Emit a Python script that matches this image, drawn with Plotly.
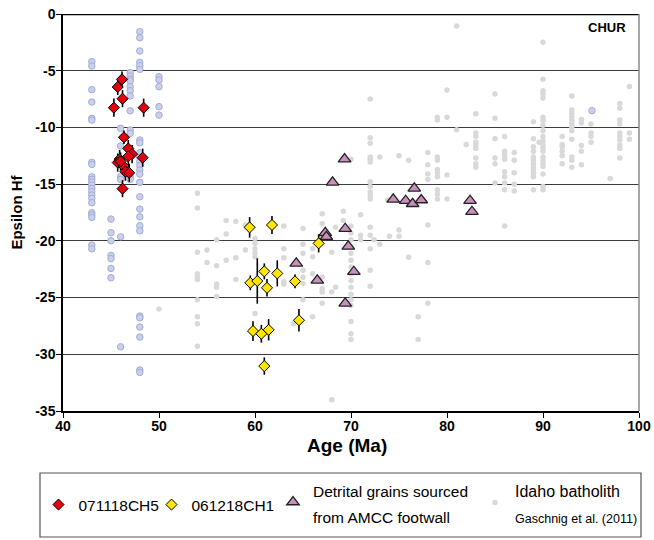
import plotly.graph_objects as go

# ---------------- data ----------------
# 071118CH5 (red diamonds)
ch5_age = [46.15, 45.7, 46.2, 45.3, 48.4, 46.35, 46.8, 47.2, 45.9, 46.8, 48.3, 45.7, 46.3, 46.5, 46.9, 46.2, 46.0]
ch5_hf = [-5.76, -6.44, -7.47, -8.26, -8.26, -10.87, -11.85, -12.35, -12.79, -12.55, -12.67, -13.1, -13.4, -13.9, -14.0, -15.4, -13.0]
ch5_err = [0.7, 0.7, 0.75, 0.8, 0.8, 0.6, 0.75, 0.8, 0.8, 0.8, 0.8, 0.8, 0.75, 0.8, 0.8, 0.75, 0.8]

# 061218CH1 (yellow diamonds)
ch1_age = [59.44, 61.77, 66.63, 59.51, 60.24, 60.97, 61.25, 62.32, 64.17, 64.58, 59.79, 60.66, 61.42, 60.97]
ch1_hf = [-18.81, -18.6, -20.22, -23.7, -23.54, -22.69, -24.14, -22.87, -23.57, -27.0, -27.95, -28.19, -27.84, -31.04]
ch1_err = [0.9, 0.8, 0.8, 0.65, 2.0, 0.7, 0.77, 1.15, 0.6, 1.0, 0.87, 0.78, 0.94, 0.76]

# Detrital grains sourced from AMCC footwall (triangles)
det_age = [69.33, 68.08, 76.59, 74.4, 75.69, 76.42, 77.32, 82.4, 82.6, 69.4, 67.32, 67.43, 69.72, 64.3, 70.3, 66.49, 69.4]
det_hf = [-12.79, -14.84, -15.37, -16.34, -16.46, -16.73, -16.4, -16.46, -17.43, -18.93, -19.29, -19.64, -20.49, -21.98, -22.72, -23.48, -25.51]

# Other Eocene data (lavender circles, not in legend)
eoc_age = ([43.0] * 22 + [45.0] * 7 + [46.0] * 6 + [47.0] * 12 + [48.0] * 26 + [50.0] * 5 + [95.1])
eoc_hf = [-4.2, -4.59, -6.67, -7.76, -9.2, -9.35, -13.08, -13.26, -14.35, -14.58, -14.81, -15.08, -15.37, -15.67, -15.96, -16.25, -16.64, -17.52, -17.72, -17.93, -20.37, -20.7,
          -18.08, -19.28, -19.99, -21.28, -21.57, -22.43, -23.25,
          -10.08, -11.64, -14.35, -14.58, -19.64, -29.34,
          -5.17, -5.47, -5.73, -5.91, -6.41, -6.76, -7.23, -8.53, -10.23, -10.52, -14.35, -14.58,
          -1.56, -2.09, -3.26, -4.26, -4.56, -4.88, -11.11, -11.35, -12.23, -12.64, -13.02, -13.38, -13.76, -14.11, -14.84, -16.11, -17.2, -17.88, -18.67, -19.11, -26.63, -26.78, -27.6, -28.48, -31.39, -31.6,
          -5.53, -5.82, -6.41, -8.17, -8.91,
          -8.52]

# Idaho batholith, Gaschnig et al. (2011) (grey dots)
idaho_age = ([50.0] + [54.0] * 10 + [55.0] * 2 + [56.0] * 5 + [57.0] * 3 + [58.0] * 3 + [59.0] * 2 + [60.0] * 6
             + [63.0] * 5 + [64.0] + [65.0] * 7 + [66.0] * 4 + [67.0] * 6 + [68.0] * 3 + [68.4] * 2 + [69.2] * 2
             + [70.0] * 17 + [71.0] * 3 + [72.0] * 16 + [72.4] + [73.0] * 2 + [73.8] + [74.0] + [75.0] * 3 + [76.0] * 2
             + [77.0] * 2 + [78.0] * 7 + [79.0] * 10 + [80.0] * 4 + [81.0] * 2 + [82.0] + [83.0] * 9 + [85.0] * 6
             + [86.0] * 10 + [87.0] * 5 + [89.0] * 12 + [89.6] + [90.0] * 21 + [92.0] * 6 + [93.0] * 12 + [94.0] * 5
             + [95.0] * 4 + [97.0] + [98.0] * 10 + [99.0] * 3)
idaho_hf = [-26.0,
            -15.8, -17.1, -21.0, -22.9, -23.2, -23.4, -25.2, -26.7, -27.3, -29.3,
            -20.8, -21.9,
            -19.9, -22.2, -23.8, -24.1, -24.9,
            -18.2, -19.4, -21.7,
            -18.3, -21.5, -23.4,
            -18.6, -20.8,
            -19.8, -20.2, -20.7, -21.1, -21.4, -26.4,
            -18.7, -20.7, -21.5, -23.6, -23.8,
            -27.3,
            -18.9, -20.3, -21.1, -22.6, -23.2, -23.75, -25.2,
            -20.7, -21.4, -22.9, -26.7,
            -17.6, -18.5, -23.2, -24.2, -24.5, -25.5,
            -21.0, -24.5, -34.0,
            -18.8, -24.1,
            -17.4, -18.2,
            -12.8, -18.7, -19.3, -19.9, -20.5, -21.1, -21.7, -22.3, -22.9, -23.5, -24.1, -24.7, -25.2, -25.7, -27.1, -28.2, -28.7,
            -17.7, -19.5, -19.9,
            -7.5, -10.9, -11.4, -12.6, -12.8, -13.05, -14.8, -15.2, -15.7, -16.0, -16.3, -18.8, -19.5, -20.7, -22.6, -24.0,
            -19.9,
            -12.6, -20.3,
            -16.4,
            -19.6,
            -12.5, -19.05, -19.6,
            -12.9, -21.45,
            -26.7, -28.7,
            -12.2, -13.3, -14.1, -14.6, -18.6, -21.9, -25.5,
            -9.1, -9.35, -12.6, -12.9, -13.7, -14.0, -14.35, -15.5, -15.9, -16.3,
            -6.7, -9.1, -14.2, -16.3,
            -1.06, -10.2,
            -11.5,
            -8.8, -10.5, -10.8, -11.3, -11.55, -11.85, -12.7, -13.2, -13.5,
            -7.05, -9.2, -11.0, -12.7, -13.2, -14.9,
            -10.8, -12.1, -12.35, -12.6, -12.8, -13.9, -14.35, -14.9, -15.5, -18.7,
            -12.2, -12.9, -14.0, -15.0, -15.6,
            -9.5, -11.0, -11.7, -12.1, -12.6, -12.9, -13.2, -13.5, -13.75, -14.05, -14.35, -15.5,
            -11.3,
            -2.5, -5.76, -6.76, -7.05, -7.4, -9.1, -9.4, -9.8, -10.3, -10.8, -11.2, -11.55, -11.85, -12.1, -12.6, -12.9, -13.2, -13.45, -14.1, -15.2, -15.5,
            -10.8, -11.5, -11.7, -12.1, -12.5, -13.2,
            -7.23, -8.47, -8.76, -9.06, -9.35, -9.64, -9.94, -10.3, -11.05, -12.6, -12.9, -13.5,
            -9.3, -9.6, -11.6, -12.1, -13.3,
            -9.7, -10.5, -10.8, -11.3,
            -14.5,
            -7.9, -8.3, -9.35, -9.7, -10.5, -10.8, -11.1, -11.55, -11.85, -12.7,
            -6.4, -10.5, -11.05]

x_ticks = [40, 50, 60, 70, 80, 90, 100]
y_ticks = [0, -5, -10, -15, -20, -25, -30, -35]

FONT = "Liberation Sans, Arial, sans-serif"
W, H = 654, 540

fig = go.Figure()

fig.add_trace(go.Scatter(
    x=idaho_age, y=idaho_hf, mode="markers",
    name="<span style='font-size:16px'>Idaho batholith</span><br><span style='font-size:12.5px'>Gaschnig et al. (2011)</span>",
    marker=dict(color="#d9d9d9", size=5.5, line=dict(width=0)),
    legend="legend4"))

fig.add_trace(go.Scatter(
    x=eoc_age, y=eoc_hf, mode="markers", showlegend=False,
    marker=dict(color="#cbd0ea", size=6.5, line=dict(color="#a3acd8", width=1))))

fig.add_trace(go.Scatter(
    x=det_age, y=det_hf, mode="markers",
    name="<span style='font-size:15.5px'>Detrital grains sourced</span><br><span style='font-size:15.5px'>from AMCC footwall</span>",
    marker=dict(symbol="triangle-up", color="#c98fbf", size=11, line=dict(color="#222222", width=1.3)),
    legend="legend3"))

fig.add_trace(go.Scatter(
    x=ch1_age, y=ch1_hf, mode="markers", name="061218CH1",
    error_y=dict(type="data", array=ch1_err, color="black", thickness=1.6, width=0),
    marker=dict(symbol="diamond", color="#ffe500", size=8.5, line=dict(color="black", width=1)),
    legend="legend2"))

fig.add_trace(go.Scatter(
    x=ch5_age, y=ch5_hf, mode="markers", name="071118CH5",
    error_y=dict(type="data", array=ch5_err, color="black", thickness=1.6, width=0),
    marker=dict(symbol="diamond", color="#e3000f", size=8.5, line=dict(color="black", width=1)),
    legend="legend"))

ML, MR, MT, MB = 63, 15, 14, 129
PW = W - ML - MR
PH = H - MT - MB


def px_x(p):
    return (p - ML) / PW


def px_y(p):
    return (H - MB - p) / PH


def cx(p):
    return p / W


def cy(p):
    return 1 - p / H


single = dict(orientation="h", yanchor="middle", xanchor="left", xref="container", yref="container",
              bgcolor="rgba(0,0,0,0)", borderwidth=0,
              font=dict(family=FONT, size=15.5, color="black"), itemwidth=30)
double = dict(single, font=dict(family=FONT, size=20, color="black"))
fig.update_layout(
    legend=dict(x=cx(38.5), y=cy(505), **single),
    legend2=dict(x=cx(151.5), y=cy(505), **single),
    legend3=dict(x=cx(273), y=cy(502), **double),
    legend4=dict(x=cx(475), y=cy(502.5), **double),
)

fig.update_layout(
    width=W, height=H,
    margin=dict(l=ML, r=MR, t=MT, b=MB, autoexpand=False),
    plot_bgcolor="white", paper_bgcolor="white",
    font=dict(family=FONT, color="black"),
    xaxis=dict(range=[40, 100], tickvals=x_ticks, ticktext=[str(v) for v in x_ticks],
               ticks="outside", ticklen=5, tickwidth=1.3, tickcolor="black", automargin=False,
               showline=True, linecolor="black", linewidth=1.5, showgrid=False, zeroline=False,
               tickfont=dict(family=FONT, size=14, weight="bold"), ticklabelstandoff=-4),
    yaxis=dict(range=[-35, 0], tickvals=y_ticks, ticktext=[str(v) for v in y_ticks],
               ticks="outside", ticklen=5, tickwidth=1.3, tickcolor="black", automargin=False,
               showline=True, linecolor="black", linewidth=1.5,
               showgrid=True, gridcolor="#3c3c3c", gridwidth=1.2, zeroline=False,
               tickfont=dict(family=FONT, size=14, weight="bold"), ticklabelstandoff=-2,
               title=dict(text="Epsilon Hf", font=dict(family=FONT, size=15, weight="bold"), standoff=9)),
    shapes=[
        dict(type="line", xref="paper", yref="y", x0=0, x1=1, y0=0, y1=0,
             line=dict(color="black", width=2.6)),
        dict(type="line", xref="paper", yref="paper", x0=1, x1=1, y0=0, y1=1,
             line=dict(color="#8a8a8a", width=1.5)),
        dict(type="rect", xref="paper", yref="paper",
             x0=px_x(40), x1=px_x(641), y0=px_y(537), y1=px_y(473),
             line=dict(color="#555555", width=1.2), fillcolor="rgba(0,0,0,0)"),
    ],
    annotations=[
        dict(text="<b>CHUR</b>", xref="paper", yref="paper", x=px_x(628), y=px_y(18),
             xanchor="right", yanchor="top", showarrow=False,
             font=dict(family=FONT, size=13, color="black")),
        dict(text="<b>Age (Ma)</b>", xref="paper", yref="paper", x=px_x(347), y=px_y(445),
             xanchor="center", yanchor="middle", showarrow=False,
             font=dict(family=FONT, size=19, color="black")),
    ],
)

fig.write_html("out.html")
